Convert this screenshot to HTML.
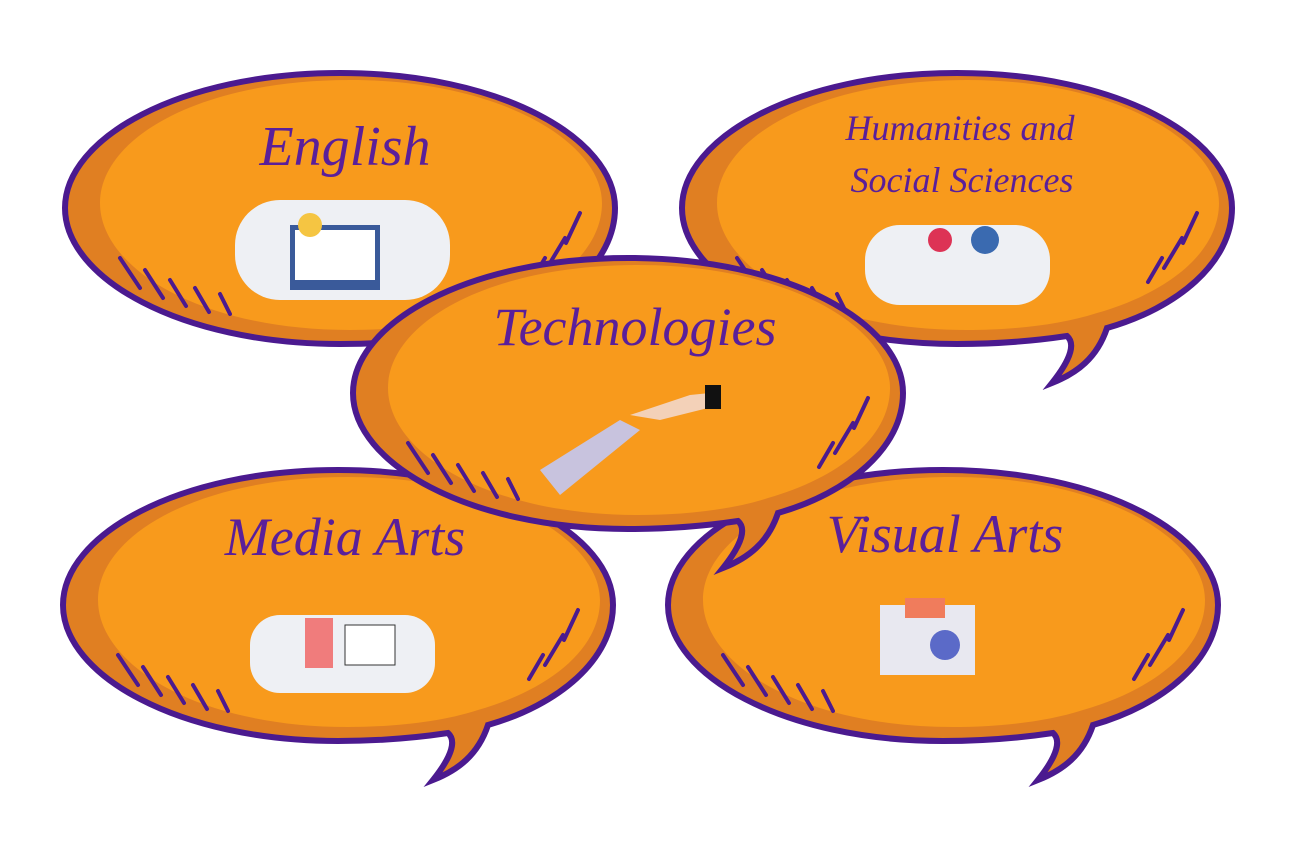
<!DOCTYPE html>
<html><head><meta charset="utf-8"><style>
html,body{margin:0;padding:0;background:#fff;}
svg{display:block}
.t{font-family:"Liberation Serif",serif;font-style:italic;fill:#5a1f9a;}
</style></head><body>
<svg width="1304" height="844" viewBox="0 0 1304 844" xmlns="http://www.w3.org/2000/svg">
<defs>
<g id="b">
  <!-- shade base -->
  <path d="M0,-135 C160,-135 275,-70 275,0 C275,55 220,100 150,120 C140,150 120,165 95,175 C115,150 118,135 110,128 C70,134 35,136 0,136 C-160,136 -275,70 -275,0 C-275,-70 -160,-135 0,-135 Z" fill="#e07f22" stroke="#4b1a8f" stroke-width="6"/>
  <path d="M10,-128 C160,-128 262,-66 262,-5 C262,45 210,85 140,105 C100,118 50,122 10,122 C-140,122 -240,60 -240,-5 C-240,-70 -140,-128 10,-128 Z" fill="#f89a1c"/>
  <g stroke="#4b1a8f" stroke-width="4" stroke-linecap="round" fill="none">
    <path d="M-220,50 l20,30 M-195,62 l18,28 M-170,72 l16,26 M-145,80 l14,24 M-120,86 l10,20"/>
    <path d="M225,30 l-18,30 M240,5 l-14,30 M205,50 l-14,24"/>
  </g>
</g>
</defs>
<use href="#b" transform="translate(340,208)"/>
<use href="#b" transform="translate(957,208)"/>
<use href="#b" transform="translate(338,605)"/>
<use href="#b" transform="translate(943,605)"/>
<use href="#b" transform="translate(628,393)"/>

<text class="t" x="345" y="165" font-size="56" text-anchor="middle">English</text>
<text class="t" x="960" y="140" font-size="36" text-anchor="middle">Humanities and</text>
<text class="t" x="962" y="192" font-size="36" text-anchor="middle">Social Sciences</text>
<text class="t" x="635" y="345" font-size="54" text-anchor="middle">Technologies</text>
<text class="t" x="345" y="555" font-size="54" text-anchor="middle">Media Arts</text>
<text class="t" x="945" y="552" font-size="54" text-anchor="middle">Visual Arts</text>

<!-- illustrations -->
<rect x="235" y="200" width="215" height="100" rx="45" fill="#eef0f4"/>
<rect x="290" y="225" width="90" height="65" fill="#3a5a9a"/>
<rect x="295" y="230" width="80" height="50" fill="#fff"/>
<circle cx="310" cy="225" r="12" fill="#f5c542"/>
<rect x="865" y="225" width="185" height="80" rx="35" fill="#eef0f4"/>
<circle cx="940" cy="240" r="12" fill="#d35"/><circle cx="985" cy="240" r="14" fill="#3a6ab0"/>
<path d="M540,470 L620,420 L640,430 L560,495 Z" fill="#c8c3de"/>
<path d="M630,415 L690,395 L720,392 L720,405 L660,420 Z" fill="#f3d1b8"/>
<rect x="705" y="385" width="16" height="24" fill="#111"/>
<rect x="250" y="615" width="185" height="78" rx="30" fill="#eef0f4"/>
<rect x="305" y="618" width="28" height="50" fill="#f07c7c"/>
<rect x="345" y="625" width="50" height="40" fill="#fff" stroke="#333"/>
<rect x="880" y="605" width="95" height="70" fill="#e8e8f0"/>
<rect x="905" y="598" width="40" height="20" fill="#f07c5c"/>
<circle cx="945" cy="645" r="15" fill="#5b6ac8"/>
</svg>
</body></html>
